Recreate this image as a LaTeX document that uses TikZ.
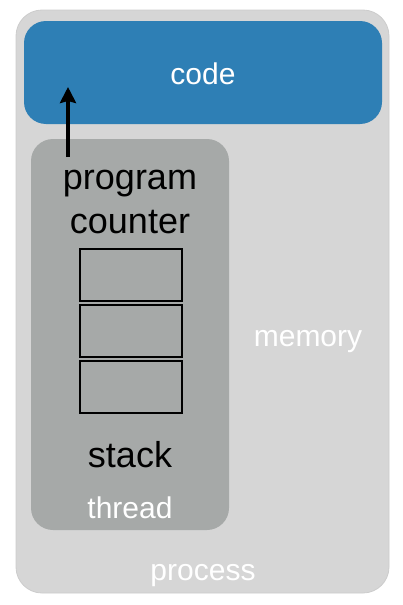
\documentclass[tikz,border=0pt]{standalone}
\usepackage{fontspec}
\setmainfont{Liberation Sans}
\usepackage{xcolor}
\usetikzlibrary{arrows.meta}

\definecolor{processgray}{HTML}{D6D6D6}
\definecolor{threadgray}{HTML}{A6A9A8}
\definecolor{codeblue}{HTML}{2E7FB5}

\tikzset{
    box/.style={rectangle, rounded corners=22pt, inner sep=0pt},
    cell/.style={rectangle, draw=black, line width=1.6pt, fill=threadgray, minimum width=102pt, minimum height=52pt},
    whitetext/.style={anchor=base, text=white, font=\fontsize{30}{36}\selectfont},
    blacktext/.style={anchor=base, text=black, font=\fontsize{36}{44}\selectfont}
}

\begin{document}
\begin{tikzpicture}[x=1pt, y=-1pt]
    \useasboundingbox (0,0) rectangle (403,605);
    % Process and its parts
    \node[box, fill=processgray, draw=black!20, line width=0.8pt, minimum width=373pt, minimum height=583pt, rounded corners=26pt] (process) at (202.5,301.5) {};
    \node[box, fill=codeblue, minimum width=358pt, minimum height=103pt] (code) at (203,72.5) {};
    \node[box, fill=threadgray, minimum width=198pt, minimum height=391pt] (thread) at (130,334.5) {};
    
    % Stack cells
    \node[cell] (cell1) at (131,275) {};
    \node[cell] (cell2) at (131,331) {};
    \node[cell] (cell3) at (131,387) {};
    
    % Labels
    \node[whitetext] (codelabel) at (203,84) {code};
    \node[whitetext] (memory) at (308,346) {memory};
    \node[whitetext] (threadlabel) at (130,518) {thread};
    \node[whitetext] (processlabel) at (203,580) {process};
    \node[blacktext] (program) at (130,189) {program};
    \node[blacktext] (counter) at (130,233) {counter};
    \node[blacktext] (stack) at (130,467) {stack};
    
    % Arrow
    \coordinate (pctail) at (68,157);
    \coordinate (pchead) at (68,87);
    \draw[line width=4pt, -{Stealth[length=16pt, width=16pt, inset=2pt]}] (pctail) -- (pchead);
\end{tikzpicture}
\end{document}
